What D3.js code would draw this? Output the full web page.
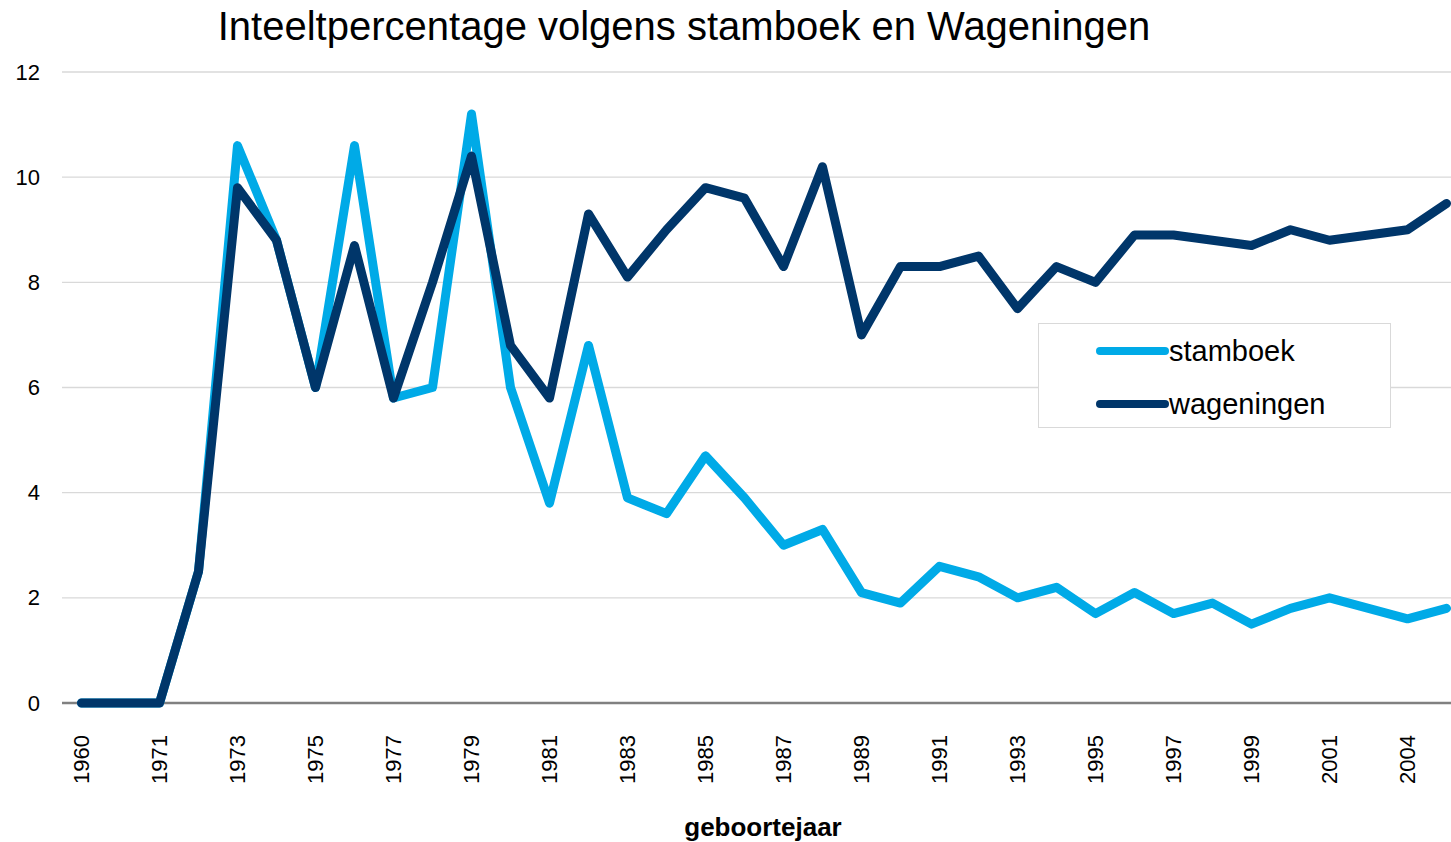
<!DOCTYPE html>
<html>
<head>
<meta charset="utf-8">
<script src="https://cdn.jsdelivr.net/npm/d3@7"></script>
<style>
  body { margin: 0; background: #fff; }
  svg { display: block; font-family: "Liberation Sans", Arial, sans-serif; }
</style>
</head>
<body>
<svg id="chart" width="1451" height="842"></svg>
<script>
//Data
var years = ["1960", "1970", "1971", "1972", "1973", "1974", "1975", "1976", "1977", "1978",
             "1979", "1980", "1981", "1982", "1983", "1984", "1985", "1986", "1987", "1988",
             "1989", "1990", "1991", "1992", "1993", "1994", "1995", "1996", "1997", "1998",
             "1999", "2000", "2001", "2002", "2004", "2005"];
var stamboek = [0, 0, 0, 2.5, 10.6, 8.8, 6.0, 10.6, 5.8, 6.0,
                11.2, 6.0, 3.8, 6.8, 3.9, 3.6, 4.7, 3.9, 3.0, 3.3,
                2.1, 1.9, 2.6, 2.4, 2.0, 2.2, 1.7, 2.1, 1.7, 1.9,
                1.5, 1.8, 2.0, 1.8, 1.6, 1.8];
var wageningen = [0, 0, 0, 2.5, 9.8, 8.8, 6.0, 8.7, 5.8, 8.0,
                  10.4, 6.8, 5.8, 9.3, 8.1, 9.0, 9.8, 9.6, 8.3, 10.2,
                  7.0, 8.3, 8.3, 8.5, 7.5, 8.3, 8.0, 8.9, 8.9, 8.8,
                  8.7, 9.0, 8.8, 8.9, 9.0, 9.5];
var yTicks = [0, 2, 4, 6, 8, 10, 12];
var seriesNames = ["stamboek", "wageningen"];
var seriesColors = ["#00aae7", "#00366a"];

//Dimensions
var dimensions = {
    width: 1451,
    height: 842,
    margin: { top: 72, bottom: 139, left: 62, right: -15 }
};

var svg = d3.select("#chart");

//Scales
var xScale = d3.scaleBand()
               .domain(years)
               .range([dimensions.margin.left, dimensions.width - dimensions.margin.right]);

var yScale = d3.scaleLinear()
               .domain([0, 12])
               .range([dimensions.height - dimensions.margin.bottom, dimensions.margin.top]);

function xPos(d, i) { return xScale(years[i]) + xScale.bandwidth() / 2; }

//Gridlines
svg.append("g")
   .selectAll("line")
   .data(yTicks.filter(function(t){ return t > 0; }))
   .enter()
   .append("line")
   .attr("x1", dimensions.margin.left)
   .attr("x2", dimensions.width)
   .attr("y1", function(d){ return yScale(d); })
   .attr("y2", function(d){ return yScale(d); })
   .style("stroke", "#d9d9d9")
   .style("stroke-width", 1.3);

//Y-axis labels
var yAxisGen = d3.axisLeft(yScale).tickValues(yTicks).tickSize(0).tickPadding(22);
var yAxis = svg.append("g")
               .attr("transform", "translate(" + dimensions.margin.left + ",0)")
               .call(yAxisGen);
yAxis.select(".domain").remove();
yAxis.selectAll("text")
     .style("font-size", "22px")
     .style("fill", "#000")
     .style("font-family", "Liberation Sans, Arial, sans-serif");

//X-axis
var xAxisGen = d3.axisBottom(xScale)
                 .tickValues(years.filter(function(d, i){ return i % 2 === 0; }))
                 .tickSize(0);
var xAxis = svg.append("g")
               .attr("transform", "translate(0," + yScale(0) + ")")
               .call(xAxisGen);
xAxis.select(".domain")
     .attr("d", "M" + dimensions.margin.left + ",0H" + dimensions.width)
     .style("stroke", "#808080")
     .style("stroke-width", 2.5);
xAxis.selectAll("text")
     .attr("transform", "rotate(-90)")
     .attr("x", -32)
     .attr("y", 0)
     .attr("dy", "0.35em")
     .attr("text-anchor", "end")
     .style("font-size", "22px")
     .style("fill", "#000")
     .style("font-family", "Liberation Sans, Arial, sans-serif");

//Lines
var lineGen = d3.line()
                .x(xPos)
                .y(function(d){ return yScale(d); });

[stamboek, wageningen].forEach(function(values, k){
    svg.append("path")
       .datum(values)
       .attr("d", lineGen)
       .style("fill", "none")
       .style("stroke", seriesColors[k])
       .style("stroke-width", 9)
       .style("stroke-linejoin", "round")
       .style("stroke-linecap", "round");
});

//Title
svg.append("text")
   .attr("x", 684)
   .attr("y", 40)
   .attr("text-anchor", "middle")
   .style("font-size", "40px")
   .text("Inteeltpercentage volgens stamboek en Wageningen");

//X-axis title
svg.append("text")
   .attr("x", 763)
   .attr("y", 836)
   .attr("text-anchor", "middle")
   .style("font-size", "26px")
   .style("font-weight", "bold")
   .text("geboortejaar");

//Legend
var legend = svg.append("g").attr("transform", "translate(1038,323)");
legend.append("rect")
      .attr("x", 0.5)
      .attr("y", 0.5)
      .attr("width", 352)
      .attr("height", 104)
      .style("fill", "#fff")
      .style("stroke", "#d9d9d9")
      .style("stroke-width", 1);
seriesNames.forEach(function(name, k){
    var ly = 28 + k * 53;
    legend.append("line")
          .attr("x1", 62)
          .attr("x2", 127)
          .attr("y1", ly)
          .attr("y2", ly)
          .style("stroke", seriesColors[k])
          .style("stroke-width", 8)
          .style("stroke-linecap", "round");
    legend.append("text")
          .attr("x", 131)
          .attr("y", ly + 10)
          .style("font-size", "29px")
          .text(name);
});
</script>
</body>
</html>
